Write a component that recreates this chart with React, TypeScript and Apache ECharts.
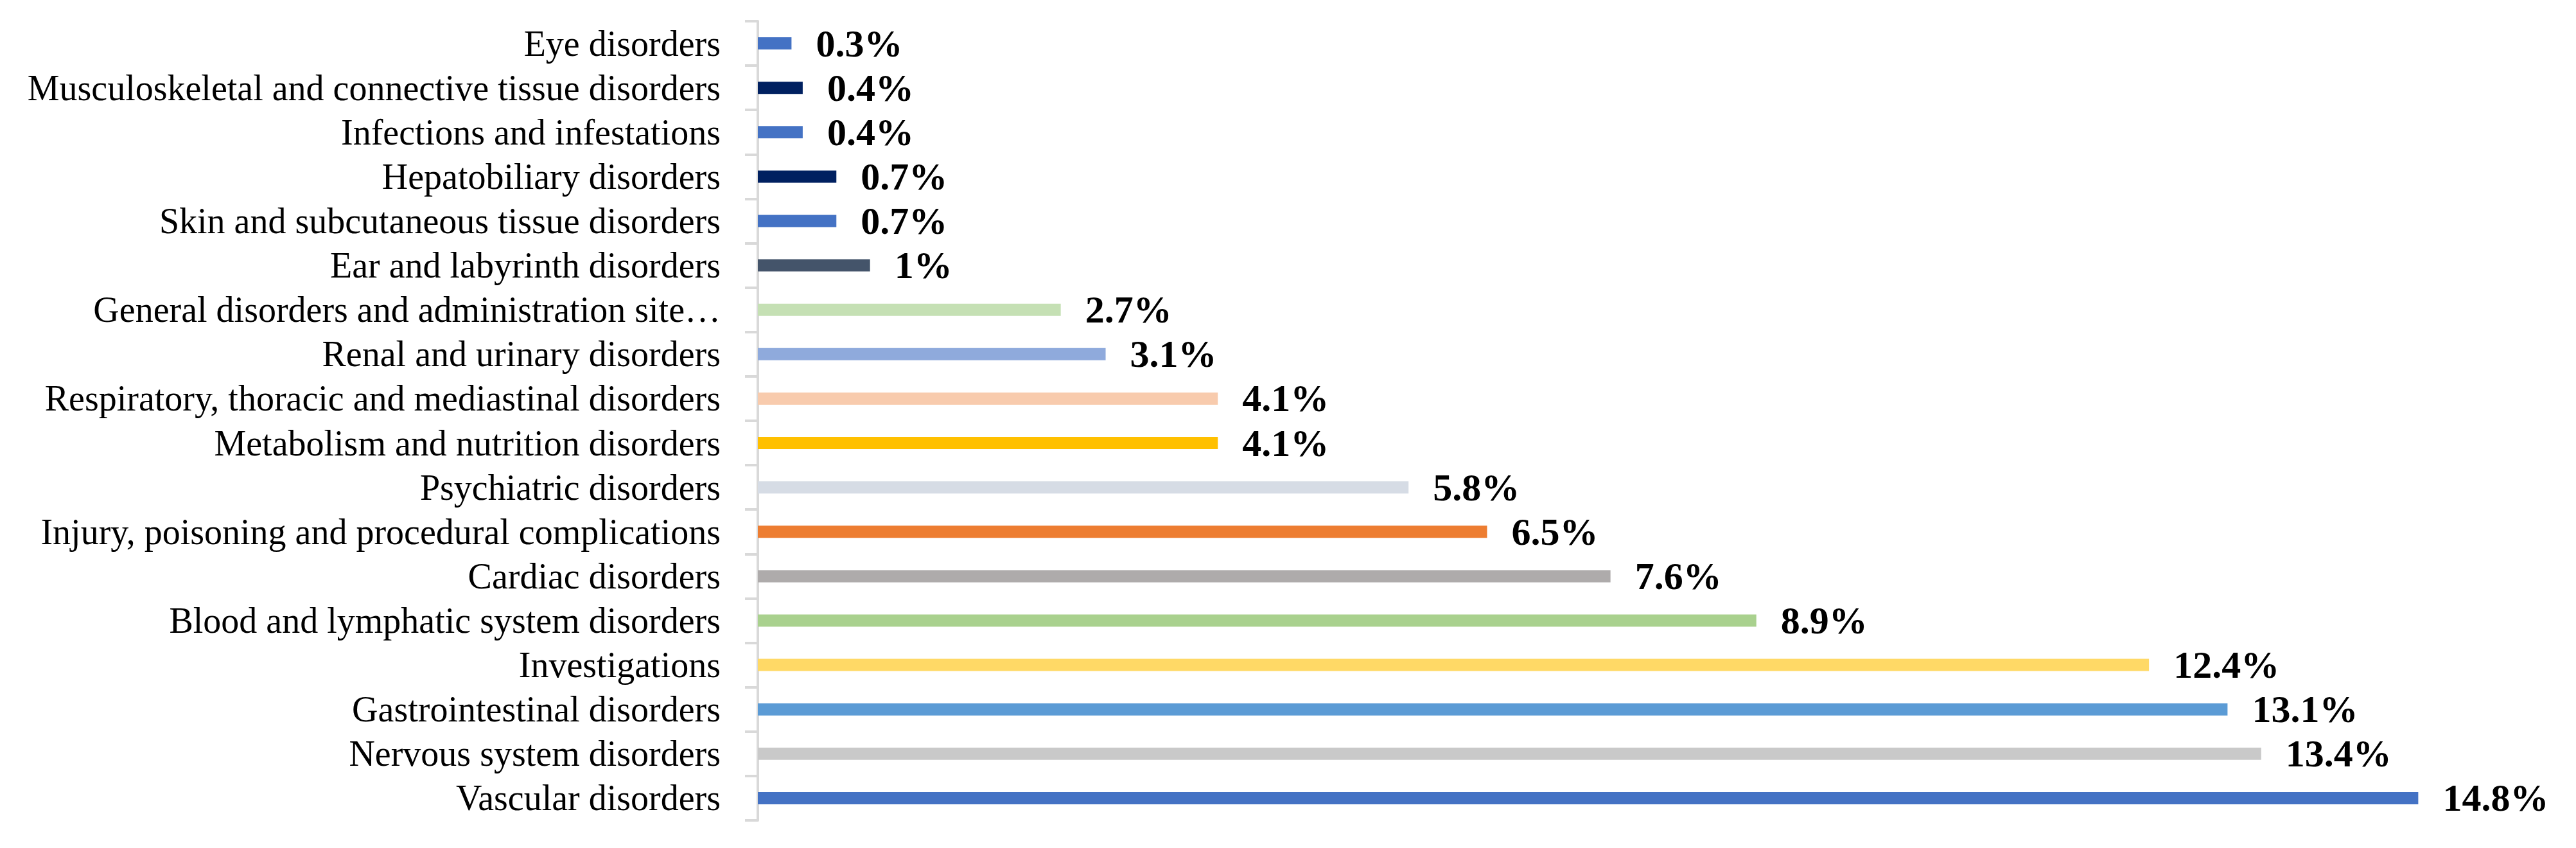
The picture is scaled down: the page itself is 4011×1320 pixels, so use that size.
import React, { useEffect, useRef } from "react";
import * as echarts from "echarts";

const categories = [
  "Eye disorders",
  "Musculoskeletal and connective tissue disorders",
  "Infections and infestations",
  "Hepatobiliary disorders",
  "Skin and subcutaneous tissue disorders",
  "Ear and labyrinth disorders",
  "General disorders and administration site…",
  "Renal and urinary disorders",
  "Respiratory, thoracic and mediastinal disorders",
  "Metabolism and nutrition disorders",
  "Psychiatric disorders",
  "Injury, poisoning and procedural complications",
  "Cardiac disorders",
  "Blood and lymphatic system disorders",
  "Investigations",
  "Gastrointestinal disorders",
  "Nervous system disorders",
  "Vascular disorders",
];

const values = [0.3, 0.4, 0.4, 0.7, 0.7, 1, 2.7, 3.1, 4.1, 4.1, 5.8, 6.5, 7.6, 8.9, 12.4, 13.1, 13.4, 14.8];

const barColors = [
  "#4472C4",
  "#002060",
  "#4472C4",
  "#002060",
  "#4472C4",
  "#44546A",
  "#C5E0B4",
  "#8FAADC",
  "#F8CBAD",
  "#FFC000",
  "#D6DCE5",
  "#ED7D31",
  "#AEABAB",
  "#A9D18E",
  "#FFD966",
  "#5B9BD5",
  "#C9C9C9",
  "#4472C4",
];

export default function App() {
  const ref = useRef<HTMLDivElement>(null);

  useEffect(() => {
    if (!ref.current) return;
    const chart = echarts.init(ref.current, undefined, { renderer: "svg" });
    chart.setOption({
      animation: false,
      backgroundColor: "#ffffff",
      grid: { left: 1180, right: 36, top: 33, bottom: 43, containLabel: false },
      xAxis: {
        type: "value",
        min: 0,
        max: 16,
        show: false,
        splitLine: { show: false },
      },
      yAxis: {
        type: "category",
        inverse: true,
        data: categories,
        axisLine: { show: true, lineStyle: { color: "#D9D9D9", width: 4 } },
        axisTick: { show: true, length: 20, lineStyle: { color: "#D9D9D9", width: 4 } },
        axisLabel: {
          interval: 0,
          margin: 58,
          fontFamily: "'Liberation Serif', 'Times New Roman', serif",
          fontSize: 56,
          color: "#000000",
        },
        splitLine: { show: false },
      },
      series: [
        {
          type: "bar",
          barWidth: 19,
          data: values.map((v, i) => ({ value: v, itemStyle: { color: barColors[i] } })),
          label: {
            show: true,
            position: "right",
            distance: 38,
            formatter: (p: any) => `${p.value}%`,
            fontFamily: "'Liberation Serif', 'Times New Roman', serif",
            fontWeight: "bold",
            fontSize: 60,
            color: "#000000",
          },
        },
      ],
    });
    return () => chart.dispose();
  }, []);

  return (
    <div
      ref={ref}
      style={{ position: "fixed", left: 0, top: 0, width: 4011, height: 1320, background: "#fff" }}
    />
  );
}
